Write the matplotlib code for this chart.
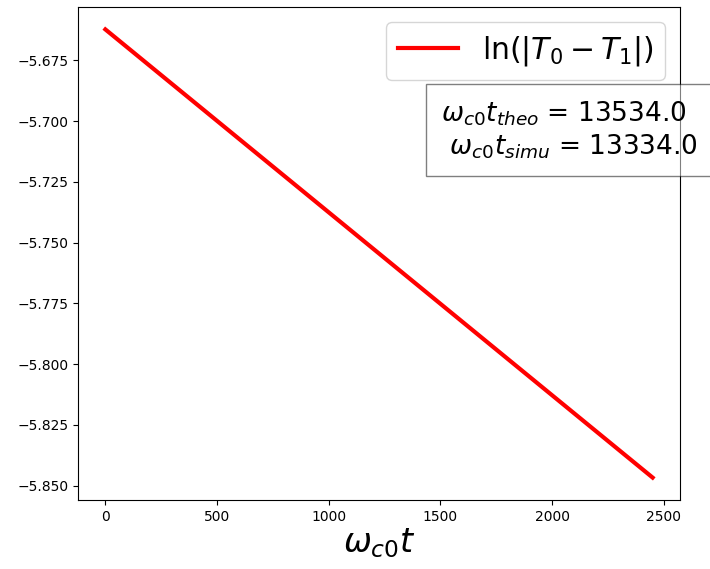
import matplotlib
matplotlib.use("Agg")
import matplotlib.pyplot as plt
import numpy as np

# data
t_values = [0, 2450]
ln_diff = [-5.6623, -5.8467]
legend_label = r'$\ln(|T_0-T_1|)$'
info_text = r'$\omega_{c0}t_{theo}$ = 13534.0' + '\n' + r' $\omega_{c0}t_{simu}$ = 13334.0'

fig = plt.figure(figsize=(7.10, 5.69), dpi=100)
ax = fig.add_axes([78/710, 69/569, 602/710, 493/569])
ax.plot(t_values, ln_diff, color='red', lw=3, label=legend_label)
ax.set_xlabel(r'$\omega_{c0}t$', fontsize=24, labelpad=2)
ax.legend(loc='upper right', fontsize=21.5)
ax.text(0.603, 0.812, info_text, transform=ax.transAxes, fontsize=19,
        ha='left', va='top', multialignment='left',
        bbox=dict(facecolor='white', alpha=0.5, pad=11), clip_on=False)
ax.set_xticks([0, 500, 1000, 1500, 2000, 2500])
fig.savefig('out.png', dpi=100)
